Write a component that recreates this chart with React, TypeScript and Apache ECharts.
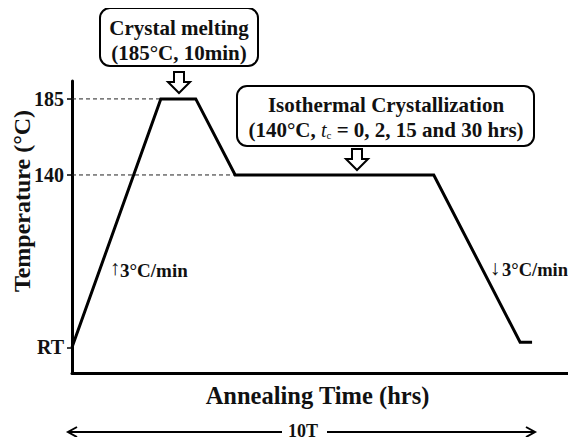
import React, { useEffect, useRef } from "react";
import * as echarts from "echarts";

// Annealing profile (arbitrary time units, temperature in °C; RT shown as room temperature)
const RT = 38;
const profileTime = [0, 17.8, 24.8, 32.7, 72.5, 89.8, 92.2];
const profileTemp = [RT, 185, 185, 140, 140, 41, 41];
const yTickValues = [RT, 140, 185];
const yTickLabels = ["RT", "140", "185"];
const meltGuideTime = [0, 17.8];
const meltGuideTemp = [185, 185];
const isoGuideTime = [0, 32.7];
const isoGuideTemp = [140, 140];

const FONT = "Liberation Serif";

function hollowDownArrow(cx: number, top: number, bottom: number) {
  const shaft = 5;
  const head = 11;
  const headTop = top + (bottom - top) * 0.48;
  return {
    type: "polygon",
    shape: {
      points: [
        [cx - shaft, top],
        [cx + shaft, top],
        [cx + shaft, headTop],
        [cx + head, headTop],
        [cx, bottom],
        [cx - head, headTop],
        [cx - shaft, headTop],
      ],
    },
    style: { fill: "#fff", stroke: "#000", lineWidth: 2 },
  };
}

function txt(x: number, y: number, text: string, size: number, extra: any = {}) {
  const { style: extraStyle, align, ...rest } = extra;
  return {
    type: "text",
    x,
    y,
    ...rest,
    style: {
      text,
      x: 0,
      y: 0,
      fontSize: size,
      fontWeight: "bold",
      fontFamily: FONT,
      fill: "#111",
      align: align || "center",
      textAlign: align || "center",
      verticalAlign: "middle",
      textVerticalAlign: "middle",
      ...(extraStyle || {}),
    },
  };
}

export default function App() {
  const ref = useRef<HTMLDivElement>(null);
  useEffect(() => {
    if (!ref.current) return;
    const chart = echarts.init(ref.current, null, { renderer: "svg" });
    const zip = (a: number[], b: number[]) => a.map((v, i) => [v, b[i]]);
    chart.setOption({
      animation: false,
      backgroundColor: "#fff",
      grid: { left: 72, right: 5, top: 81, bottom: 72, containLabel: false },
      xAxis: {
        type: "value",
        min: 0,
        max: 100,
        name: "Annealing Time (hrs)",
        nameLocation: "middle",
        nameGap: 10,
        nameTextStyle: {
          fontSize: 24.5,
          fontWeight: "bold",
          fontFamily: FONT,
          color: "#111",
          verticalAlign: "top",
          padding: [0, 8, 0, 0],
        },
        axisLine: { show: true, lineStyle: { color: "#000", width: 3 } },
        axisTick: { show: false },
        axisLabel: { show: false },
        splitLine: { show: false },
      },
      yAxis: {
        type: "value",
        min: 22.8,
        max: 195.6,
        axisLine: { show: true, lineStyle: { color: "#000", width: 3 } },
        axisTick: {
          show: true,
          length: 5,
          customValues: yTickValues,
          lineStyle: { color: "#000", width: 1.5 },
        },
        axisLabel: {
          show: true,
          customValues: yTickValues,
          margin: 8,
          fontSize: 20,
          fontWeight: "bold",
          fontFamily: FONT,
          color: "#111",
          formatter: (v: number) => {
            const i = yTickValues.indexOf(v);
            return i >= 0 ? yTickLabels[i] : "";
          },
        },
        splitLine: { show: false },
      },
      series: [
        {
          type: "line",
          data: zip(meltGuideTime, meltGuideTemp),
          symbol: "none",
          lineStyle: { color: "#222", width: 1, type: [4, 3] },
          z: 1,
        },
        {
          type: "line",
          data: zip(isoGuideTime, isoGuideTemp),
          symbol: "none",
          lineStyle: { color: "#222", width: 1, type: [4, 3] },
          z: 1,
        },
        {
          type: "line",
          data: zip(profileTime, profileTemp),
          symbol: "none",
          lineStyle: { color: "#000", width: 3, join: "miter" },
          z: 3,
        },
      ],
      graphic: [
        // Crystal melting box
        {
          type: "rect",
          shape: { x: 100, y: 8, width: 158, height: 58, r: 10 },
          style: { fill: "#fff", stroke: "#000", lineWidth: 2 },
        },
        txt(179, 28, "Crystal melting", 21),
        txt(179, 53, "(185°C, 10min)", 21),
        hollowDownArrow(179, 72, 93),
        // Isothermal crystallization box
        {
          type: "rect",
          shape: { x: 237, y: 86, width: 297, height: 60, r: 10 },
          style: { fill: "#fff", stroke: "#000", lineWidth: 2 },
        },
        txt(386, 105, "Isothermal Crystallization", 21),
        txt(386, 130, "(140°C, {it|t}{sub|c} = 0, 2, 15 and 30 hrs)", 21, {
          style: {
            rich: {
              it: {
                fontStyle: "italic",
                fontWeight: "normal",
                fontSize: 20,
                fontFamily: FONT,
                fill: "#111",
              },
              sub: {
                fontSize: 11,
                fontWeight: "normal",
                fontFamily: FONT,
                fill: "#111",
                verticalAlign: "bottom",
                padding: [6, 0, 0, 0],
              },
            },
          },
        }),
        hollowDownArrow(357, 149, 170),
        // Rate labels
        txt(115, 268, "↑", 21, { style: { fontWeight: "normal" } }),
        txt(120, 270, "3°C/min", 19, { align: "left" }),
        txt(495, 268, "↓", 21, { style: { fontWeight: "normal" } }),
        txt(502, 270, "3°C/min", 18.5, { align: "left" }),
        // Y-axis title
        txt(22, 201, "Temperature (°C)", 24, { rotation: Math.PI / 2 }),
        // 10T span arrow
        {
          type: "line",
          shape: { x1: 68, y1: 432, x2: 282, y2: 432 },
          style: { stroke: "#000", lineWidth: 2 },
        },
        {
          type: "line",
          shape: { x1: 327, y1: 432, x2: 535, y2: 432 },
          style: { stroke: "#000", lineWidth: 2 },
        },
        {
          type: "polyline",
          shape: { points: [[77, 427], [68, 432], [77, 437]] },
          style: { stroke: "#000", lineWidth: 2, fill: "none" },
        },
        {
          type: "polyline",
          shape: { points: [[526, 427], [535, 432], [526, 437]] },
          style: { stroke: "#000", lineWidth: 2, fill: "none" },
        },
        txt(303, 431, "10T", 18),
      ],
    });
    return () => chart.dispose();
  }, []);
  return <div ref={ref} style={{ width: 576, height: 445, margin: -8 }} />;
}
